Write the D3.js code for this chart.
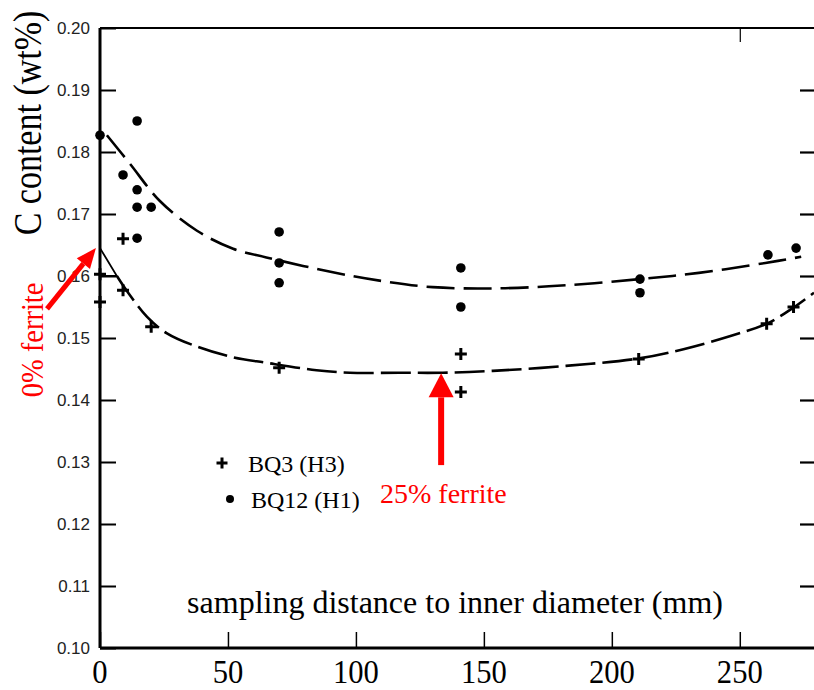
<!DOCTYPE html>
<html>
<head>
<meta charset="utf-8">
<script src="https://cdn.jsdelivr.net/npm/d3@7"></script>
<style>
  body { margin: 0; background: #fff; }
  svg { display: block; }
</style>
</head>
<body>
<div id="chart"></div>
<script>
// Tick values
const xTicks = [0, 50, 100, 150, 200, 250];
const yTicks = [0.10, 0.11, 0.12, 0.13, 0.14, 0.15, 0.16, 0.17, 0.18, 0.19, 0.20];
const topTicks = [250];

// BQ3 (H3) measurements, crosses
const bq3X = [0, 0, 9, 9, 20, 70, 141, 141, 210.5, 260.5, 271];
const bq3Y = [0.1603, 0.1558, 0.166, 0.1577, 0.1518, 0.1452, 0.1474, 0.1413, 0.1466, 0.1523, 0.155];

// BQ12 (H1) measurements, dots
const bq12X = [0, 9, 14.5, 14.5, 14.5, 20, 14.5, 70, 70, 70, 141, 141, 211, 211, 261, 272];
const bq12Y = [0.1827, 0.1763, 0.185, 0.1739, 0.1711, 0.1711, 0.1661, 0.1671, 0.1621, 0.1589, 0.1613, 0.155, 0.1595, 0.1573, 0.1634, 0.1645];

// hand-drawn trend lines
const fit12X = [2.7, 11.7, 23.4, 37.9, 52, 65, 91, 110, 130, 154, 182, 211, 234, 260, 274];
const fit12Y = [0.1827, 0.1781, 0.1721, 0.1673, 0.1644, 0.163, 0.1606, 0.1592, 0.1582, 0.158, 0.1585, 0.1595, 0.1605, 0.1621, 0.1631];
const fit3X = [6.6, 11, 18.4, 26, 38, 52, 65, 84.6, 97.6, 117, 134, 153.5, 182, 210.5, 228, 247, 260.5, 271, 279];
const fit3Y = [0.160, 0.1573, 0.1534, 0.1508, 0.1486, 0.1469, 0.146, 0.1448, 0.1444, 0.1444, 0.1444, 0.1447, 0.1455, 0.1467, 0.1482, 0.1504, 0.1523, 0.1549, 0.1573];

// little triangle at the start of the lower line
const triX = [0, 6.6, 0];
const triY = [0.1645, 0.160, 0.160];

const width = 814, height = 690;
const plotLeft = 100, plotRight = 814, plotTop = 28, plotBottom = 648;

const svg = d3.select("#chart").append("svg")
    .attr("width", width)
    .attr("height", height);

const x = d3.scaleLinear().domain([0, 279]).range([plotLeft, plotRight]);
const y = d3.scaleLinear().domain([0.10, 0.20]).range([plotBottom, plotTop]);

const serif = "'Liberation Serif', 'Times New Roman', serif";

// left axis with inner ticks
const yAxis = svg.append("g")
    .attr("transform", `translate(${plotLeft},0)`)
    .call(d3.axisLeft(y).tickValues(yTicks).tickSize(-16).tickPadding(10).tickFormat(d3.format(".2f")));
yAxis.select(".domain").attr("stroke-width", 3).attr("d", `M0,${plotTop}V${plotBottom}`);
yAxis.selectAll(".tick line").attr("stroke-width", 2);
yAxis.selectAll(".tick text")
    .style("font-family", "'Liberation Sans', Arial, sans-serif")
    .style("font-size", "17px")
    .attr("fill", "#222");

// bottom axis, ticks only; labels drawn below
const xAxis = svg.append("g")
    .attr("transform", `translate(0,${plotBottom})`)
    .call(d3.axisBottom(x).tickValues(xTicks).tickSize(-16).tickFormat(""));
xAxis.select(".domain").attr("stroke-width", 3).attr("d", `M${plotLeft},0H${plotRight}`);
xAxis.selectAll(".tick line").attr("stroke-width", 1.5);

svg.selectAll(".x-label")
    .data(xTicks)
    .enter()
    .append("text")
    .attr("class", "x-label")
    .attr("transform", d => `translate(${x(d)},683) scale(0.9,1)`)
    .attr("text-anchor", "middle")
    .style("font-family", serif)
    .style("font-size", "34px")
    .text(d => d);

// top border with its one tick
const topAxis = svg.append("g")
    .attr("transform", `translate(0,${plotTop})`)
    .call(d3.axisTop(x).tickValues(topTicks).tickSize(-14).tickFormat(""));
topAxis.select(".domain").attr("stroke-width", 2).attr("d", `M${plotLeft},0H${plotRight}`);
topAxis.selectAll(".tick line").attr("stroke-width", 1.2);

// right axis sits just off the page, only inner ticks show
const rightAxis = svg.append("g")
    .attr("transform", `translate(${plotRight + 1},0)`)
    .call(d3.axisRight(y).tickValues(yTicks.slice(1, -1)).tickSize(-15).tickFormat(""));
rightAxis.selectAll(".tick line").attr("stroke-width", 2.2);

// trend lines
const line = d3.line()
    .x(d => x(d[0]))
    .y(d => y(d[1]))
    .curve(d3.curveCatmullRom.alpha(0.5));

svg.append("path")
    .datum(fit12X.map((v, i) => [v, fit12Y[i]]))
    .attr("d", line)
    .attr("fill", "none")
    .attr("stroke", "#000")
    .attr("stroke-width", 2.6)
    .attr("stroke-dasharray", "28,9");

svg.append("path")
    .datum(fit3X.map((v, i) => [v, fit3Y[i]]))
    .attr("d", line)
    .attr("fill", "none")
    .attr("stroke", "#000")
    .attr("stroke-width", 2.6)
    .attr("stroke-dasharray", "30,7");

svg.append("path")
    .datum(triX.map((v, i) => [v, triY[i]]))
    .attr("d", d3.line().x(d => x(d[0])).y(d => y(d[1])).curve(d3.curveLinearClosed))
    .attr("fill", "none")
    .attr("stroke", "#000")
    .attr("stroke-width", 1.8);

// dots
svg.selectAll(".dot")
    .data(bq12X.map((v, i) => [v, bq12Y[i]]))
    .enter()
    .append("circle")
    .attr("class", "dot")
    .attr("cx", d => x(d[0]))
    .attr("cy", d => y(d[1]))
    .attr("r", 4.8)
    .attr("fill", "#000");

// crosses
svg.selectAll(".cross")
    .data(bq3X.map((v, i) => [v, bq3Y[i]]))
    .enter()
    .append("path")
    .attr("class", "cross")
    .attr("transform", d => `translate(${x(d[0])},${y(d[1])})`)
    .attr("d", "M-6,0H6M0,-6V6")
    .attr("stroke", "#000")
    .attr("stroke-width", 3);

// legend
svg.append("path")
    .attr("transform", "translate(222,463)")
    .attr("d", "M-5.5,0H5.5M0,-5.5V5.5")
    .attr("stroke", "#000")
    .attr("stroke-width", 3);
svg.append("text")
    .attr("x", 248).attr("y", 472)
    .style("font-family", serif).style("font-size", "24px")
    .text("BQ3 (H3)");
svg.append("circle")
    .attr("cx", 230).attr("cy", 499).attr("r", 4)
    .attr("fill", "#000");
svg.append("text")
    .attr("x", 251).attr("y", 508)
    .style("font-family", serif).style("font-size", "24px")
    .text("BQ12 (H1)");

// axis titles
svg.append("text")
    .attr("x", 455).attr("y", 613)
    .attr("text-anchor", "middle")
    .style("font-family", serif).style("font-size", "32px")
    .text("sampling distance to inner diameter (mm)");

svg.append("text")
    .attr("transform", "translate(41,123) rotate(-90) scale(0.85,1)")
    .attr("text-anchor", "middle")
    .style("font-family", serif).style("font-size", "40px")
    .text("C content (wt%)");

// red annotations
const red = "#ff0000";
function arrow(x1, y1, x2, y2, shaft, headLen, headW) {
    const dx = x2 - x1, dy = y2 - y1, len = Math.hypot(dx, dy);
    const ux = dx / len, uy = dy / len, px = -uy, py = ux;
    const bx = x2 - ux * headLen, by = y2 - uy * headLen;
    svg.append("line")
        .attr("x1", x1).attr("y1", y1).attr("x2", bx).attr("y2", by)
        .attr("stroke", red).attr("stroke-width", shaft);
    svg.append("path")
        .attr("d", `M${x2},${y2}L${bx + px * headW / 2},${by + py * headW / 2}L${bx - px * headW / 2},${by - py * headW / 2}Z`)
        .attr("fill", red);
}
arrow(x(-20.7), y(0.1547), x(-1.6), y(0.1645), 5, 20, 17);
arrow(x(133.3), y(0.1295), x(133.3), y(0.1443), 6, 24, 25);

svg.append("text")
    .attr("transform", "translate(43,340) rotate(-90) scale(0.92,1)")
    .attr("text-anchor", "middle")
    .attr("fill", red)
    .style("font-family", serif).style("font-size", "31px")
    .text("0% ferrite");

svg.append("text")
    .attr("x", 380).attr("y", 503)
    .attr("fill", red)
    .style("font-family", serif).style("font-size", "28px")
    .text("25% ferrite");
</script>
</body>
</html>
